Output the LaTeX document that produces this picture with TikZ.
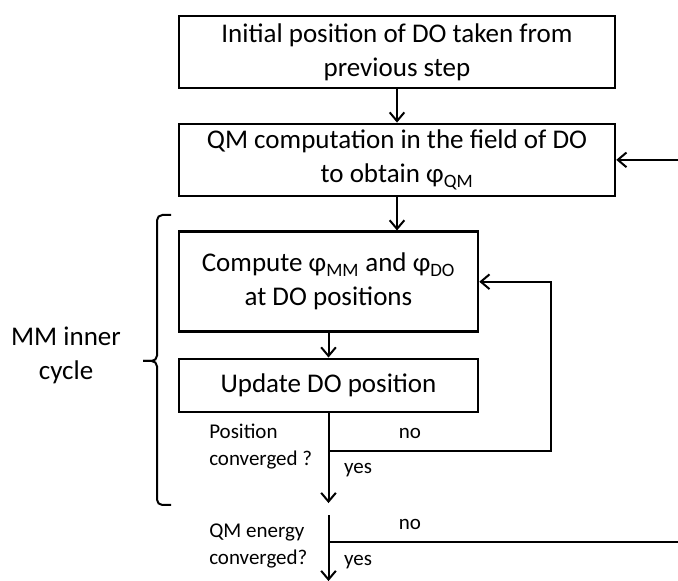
\documentclass[tikz,border=0pt]{standalone}
\usepackage{fontspec}
\setmainfont{Carlito}
\usepackage{tikz}
\usetikzlibrary{arrows.meta, positioning, calc}

\begin{document}
\begin{tikzpicture}[
    x=0.75pt, y=0.75pt,
    node distance=25pt,
    box/.style={rectangle, draw, line width=1.9pt, align=center, inner sep=0pt, font=\fontsize{20.25}{25.5}\selectfont},
    wide/.style={box, minimum width=327pt, minimum height=54pt},
    narrow/.style={box, minimum width=224.25pt},
    note/.style={inner sep=0pt, align=left, font=\fontsize{15.75}{20.25}\selectfont},
    arrow/.style={-{Straight Barb[length=6.5pt, width=11pt]}, line width=1.5pt},
    line/.style={line width=1.5pt}
]
\useasboundingbox (0,0) rectangle (678,581);

% Outer steps
\node[wide] (init) at (397,529) {Initial position of DO taken from\\previous step};
\node[wide, below=of init] (qm) {QM computation in the field of DO\\to obtain φ\textsubscript{QM}};

% MM inner cycle
\node[narrow, minimum height=75pt, below right=25pt and 0pt of qm.south west] (compute) {Compute φ\textsubscript{MM} and φ\textsubscript{DO}\\at DO positions};
\node[narrow, minimum height=39.75pt, below=18.4pt of compute] (update) {Update DO position};

% Decision points
\coordinate (posq) at ($(update.south)+(0,-38)$);
\coordinate (posend) at ($(update.south)+(0,-90)$);
\coordinate (qmstart) at ($(update.south)+(0,-102)$);
\coordinate (qmq) at ($(update.south)+(0,-129)$);
\coordinate (qmend) at ($(update.south)+(0,-168)$);
\coordinate (loopx) at (551,0);
\coordinate (edge) at (678,0);

% Arrows
\draw[arrow] (init) -- (qm);
\draw[arrow] (qm.south) -- (qm.south |- compute.north);
\draw[arrow] (compute) -- (update);
\draw[arrow] (update) -- (posend);
\draw[arrow] (qmstart) -- (qmend);

% Loops
\draw[arrow] (posq) -- (posq -| loopx) -- (loopx |- compute.east) -- (compute.east);
\draw[line] (qmq) -- (qmq -| edge);
\draw[arrow] (edge |- qm.east) -- (qm.east);

% Brace
\draw[line, rounded corners=4pt] (171,366) -- (157,366) -- (157,220) -- (143,220);
\draw[line, rounded corners=4pt] (143,220) -- (157,220) -- (157,76) -- (171,76);

% Labels
\node[note, align=center, font=\fontsize{20.25}{25.5}\selectfont] (mm) at (66,226) {MM inner\\cycle};
\node[note, anchor=west] (posl) at (209,134.5) {Position\\converged ?};
\node[note, anchor=west] (qml) at (209,35.5) {QM energy\\converged?};
\node[note] (no1) at (410,148) {no};
\node[note] (yes1) at (358,111) {yes};
\node[note] (no2) at (410,57) {no};
\node[note] (yes2) at (358,19) {yes};

\end{tikzpicture}
\end{document}
